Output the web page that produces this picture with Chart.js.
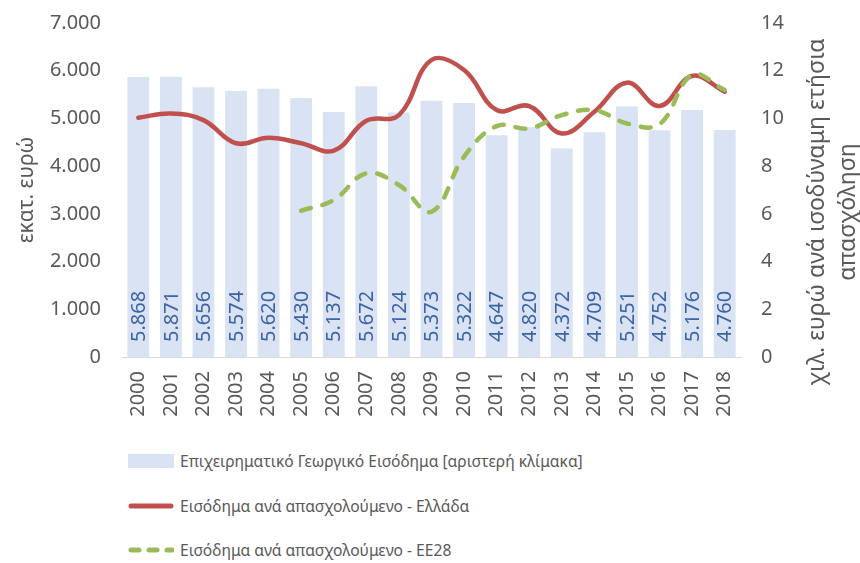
<!DOCTYPE html>
<html><head><meta charset="utf-8">
<script src="https://cdn.jsdelivr.net/npm/chart.js@4"></script>
<style>
html,body{margin:0;padding:0;background:#fff;width:860px;height:563px;overflow:hidden;font-family:"Noto Sans",sans-serif;}
#wrap{position:relative;width:860px;height:430px;}
#legend{position:absolute;left:0;top:430px;width:860px;}
.li{position:absolute;left:128px;height:24px;display:flex;align-items:center;color:#595959;font-size:15.6px;white-space:nowrap;}
.li svg{margin-right:6px;}
</style></head><body>
<div id="wrap"><canvas id="c" width="860" height="430"></canvas></div>
<div id="legend"></div>
<script>
const years = ["2000","2001","2002","2003","2004","2005","2006","2007","2008","2009","2010","2011","2012","2013","2014","2015","2016","2017","2018"];
const farmIncome = [5868,5871,5656,5574,5620,5430,5137,5672,5124,5373,5322,4647,4820,4372,4709,5251,4752,5176,4760];
const incomeGreece = [10.03,10.21,9.93,8.96,9.19,8.96,8.65,9.90,10.14,12.45,12.03,10.35,10.52,9.37,10.28,11.50,10.52,11.78,11.12];
const incomeEU28 = [null,null,null,null,null,6.13,6.58,7.70,7.21,6.09,8.40,9.68,9.58,10.14,10.35,9.79,9.76,11.82,11.19];
const seriesNames = ["Επιχειρηματικό Γεωργικό Εισόδημα [αριστερή κλίμακα]","Εισόδημα ανά απασχολούμενο - Ελλάδα","Εισόδημα ανά απασχολούμενο - ΕΕ28"];
const leftTitle = "εκατ. ευρώ";
const rightTitle = ["χιλ. ευρώ ανά ισοδύναμη ετήσια","απασχόληση"];

function grFmt(v){
  const s = Math.round(v).toString();
  return s.replace(/\B(?=(\d{3})+(?!\d))/g, ".");
}
const FONT = "Noto Sans";
const TXT = "#595959";

const barLabels = {
  id:'barLabels',
  afterDatasetsDraw(chart){
    const ctx = chart.ctx;
    const meta = chart.getDatasetMeta(2);
    ctx.save();
    ctx.fillStyle = "#3A63A8";
    ctx.font = "20px '"+FONT+"'";
    ctx.textAlign = "left";
    ctx.textBaseline = "middle";
    meta.data.forEach((bar,i)=>{
      ctx.save();
      ctx.translate(bar.x, bar.base - 15);
      ctx.rotate(-Math.PI/2);
      ctx.fillText(grFmt(farmIncome[i]), 0, 1);
      ctx.restore();
    });
    ctx.restore();
  }
};

const rightTitlePlugin = {
  id:'rightTitle',
  afterDraw(chart){
    const ctx = chart.ctx;
    ctx.save();
    ctx.fillStyle = TXT;
    ctx.font = "23px '"+FONT+"'";
    ctx.textAlign = "center";
    ctx.textBaseline = "middle";
    const xs = [817, 848];
    rightTitle.forEach((t,i)=>{
      ctx.save();
      ctx.translate(xs[i], 212);
      ctx.rotate(-Math.PI/2);
      ctx.fillText(t, 0, 0);
      ctx.restore();
    });
    ctx.restore();
  }
};

new Chart(document.getElementById('c'), {
  data:{
    labels: years,
    datasets:[
      {type:'line', label:seriesNames[1], data:incomeGreece, yAxisID:'y2', borderColor:'#C0504D', borderWidth:4.5, pointRadius:0, tension:0.4, fill:false, order:1, borderCapStyle:'round'},
      {type:'line', label:seriesNames[2], data:incomeEU28, yAxisID:'y2', borderColor:'#9BBB59', borderWidth:4.5, borderDash:[10,12], borderCapStyle:'round', pointRadius:0, tension:0.4, fill:false, order:0, spanGaps:false},
      {type:'bar', label:seriesNames[0], data:farmIncome, yAxisID:'y', backgroundColor:'#DAE3F3', barPercentage:0.67, categoryPercentage:1, order:2}
    ]
  },
  options:{
    responsive:false, animation:false,
    layout:{padding:{top:0,right:8,left:10,bottom:0}},
    plugins:{legend:{display:false}, tooltip:{enabled:false}},
    scales:{
      x:{
        grid:{display:false, drawTicks:false},
        border:{display:true,color:'#D9D9D9',width:1},
        ticks:{color:TXT, font:{family:FONT,size:20}, maxRotation:90, minRotation:90, padding:14, autoSkip:false},
        afterFit(s){ s.height = 73; }
      },
      y:{
        position:'left', min:0, max:7000,
        ticks:{stepSize:1000, color:TXT, font:{family:FONT,size:20}, padding:21, callback:v=>grFmt(v)},
        grid:{display:false, drawTicks:false}, border:{display:false},
        title:{display:true, text:leftTitle, color:TXT, font:{family:FONT,size:21}, padding:{bottom:0}},
        afterFit(s){ s.width = 112; s.paddingTop = 23; s.paddingBottom = 0; }
      },
      y2:{
        position:'right', min:0, max:14,
        ticks:{stepSize:2, color:TXT, font:{family:FONT,size:20}, padding:20},
        grid:{display:false, drawTicks:false}, border:{display:false},
        afterFit(s){ s.width = 111; s.paddingTop = 23; s.paddingBottom = 0; }
      }
    }
  },
  plugins:[barLabels, rightTitlePlugin]
});

// HTML legend
const leg = document.getElementById('legend');
const sw = [
  '<svg width="46" height="14"><rect x="0" y="0" width="46" height="14" fill="#DAE3F3"/></svg>',
  '<svg width="46" height="14"><line x1="3" y1="7" x2="43" y2="7" stroke="#C0504D" stroke-width="5" stroke-linecap="round"/></svg>',
  '<svg width="46" height="14"><line x1="3" y1="7" x2="44" y2="7" stroke="#9BBB59" stroke-width="5" stroke-linecap="round" stroke-dasharray="8 10"/></svg>'
];
const tops = [19, 64, 108];
seriesNames.forEach((n,i)=>{
  const d = document.createElement('div');
  d.className='li'; d.style.top = tops[i]+'px';
  d.innerHTML = sw[i] + '<span>'+n+'</span>';
  leg.appendChild(d);
});
</script>
</body></html>
